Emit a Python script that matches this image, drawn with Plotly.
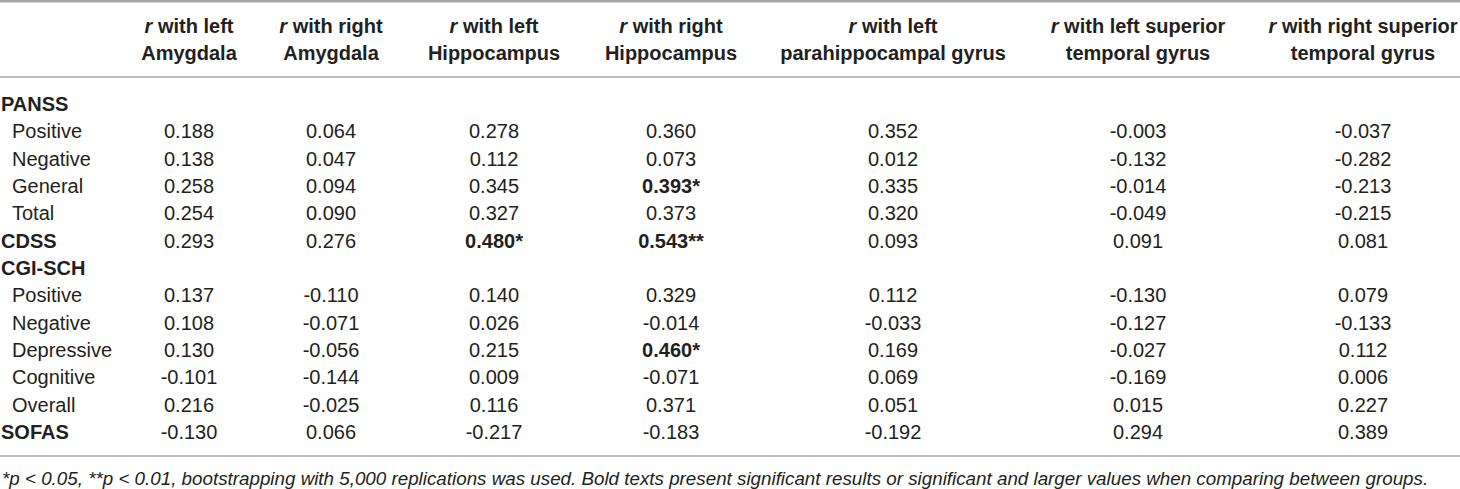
import plotly.graph_objects as go

# row labels (group rows are bold, the rest are indented sub-scales)
row_labels = ["PANSS", "Positive", "Negative", "General", "Total", "CDSS",
              "CGI-SCH", "Positive", "Negative", "Depressive", "Cognitive",
              "Overall", "SOFAS"]
group_rows = [0, 5, 6, 12]

header_top = ["<i>r</i> with left", "<i>r</i> with right", "<i>r</i> with left",
              "<i>r</i> with right", "<i>r</i> with left",
              "<i>r</i> with left superior", "<i>r</i> with right superior"]
header_bottom = ["Amygdala", "Amygdala", "Hippocampus", "Hippocampus",
                 "parahippocampal gyrus", "temporal gyrus", "temporal gyrus"]

left_amygdala = [None, 0.188, 0.138, 0.258, 0.254, 0.293, None, 0.137, 0.108, 0.130, -0.101, 0.216, -0.130]
right_amygdala = [None, 0.064, 0.047, 0.094, 0.090, 0.276, None, -0.110, -0.071, -0.056, -0.144, -0.025, 0.066]
left_hippocampus = [None, 0.278, 0.112, 0.345, 0.327, 0.480, None, 0.140, 0.026, 0.215, 0.009, 0.116, -0.217]
right_hippocampus = [None, 0.360, 0.073, 0.393, 0.373, 0.543, None, 0.329, -0.014, 0.460, -0.071, 0.371, -0.183]
left_parahippocampal = [None, 0.352, 0.012, 0.335, 0.320, 0.093, None, 0.112, -0.033, 0.169, 0.069, 0.051, -0.192]
left_stg = [None, -0.003, -0.132, -0.014, -0.049, 0.091, None, -0.130, -0.127, -0.027, -0.169, 0.015, 0.294]
right_stg = [None, -0.037, -0.282, -0.213, -0.215, 0.081, None, 0.079, -0.133, 0.112, 0.006, 0.227, 0.389]

# significance marks, same row order
sig_left_hippocampus = ["", "", "", "", "", "*", "", "", "", "", "", "", ""]
sig_right_hippocampus = ["", "", "", "*", "", "**", "", "", "", "*", "", "", ""]
no_sig = [""] * len(row_labels)

columns = [left_amygdala, right_amygdala, left_hippocampus, right_hippocampus,
           left_parahippocampal, left_stg, right_stg]
sig_marks = [no_sig, no_sig, sig_left_hippocampus, sig_right_hippocampus,
             no_sig, no_sig, no_sig]

footnote = ("<i>*p < 0.05, **p < 0.01, bootstrapping with 5,000 replications was used. "
            "Bold texts present significant results or significant and larger values "
            "when comparing between groups.</i>")

# layout constants (pixels across, row units down)
W, H = 1460, 489
col_x = [189, 331, 494, 671, 893, 1138, 1363]
row0_px, row_px = 104, 27.33
FONT = "Liberation Sans"
FS = 20
TXT = "#231f20"
LINE = "#a6a6a6"
VALUE_NUDGE = 2 / row_px  # scatter text sits a touch high vs annotations


def to_row(px):
    return (px - row0_px) / row_px


fig = go.Figure()

rows = list(range(len(row_labels)))
for cx, vals, sigs in zip(col_x, columns, sig_marks):
    texts = []
    for v, s in zip(vals, sigs):
        if v is None:
            texts.append("")
        elif s:
            texts.append(f"<b>{v:.3f}{s}</b>")
        else:
            texts.append(f"{v:.3f}")
    fig.add_trace(go.Scatter(
        x=[cx] * len(rows), y=[r + VALUE_NUDGE for r in rows],
        mode="text", text=texts, textposition="middle center",
        textfont=dict(family=FONT, size=FS, color=TXT),
        hoverinfo="skip", showlegend=False,
    ))

# column headers
fig.add_trace(go.Scatter(
    x=col_x, y=[to_row(28)] * len(col_x), mode="text",
    text=[f"<b>{t}</b>" for t in header_top],
    textfont=dict(family=FONT, size=FS, color=TXT),
    hoverinfo="skip", showlegend=False,
))
fig.add_trace(go.Scatter(
    x=col_x, y=[to_row(55)] * len(col_x), mode="text",
    text=[f"<b>{t}</b>" for t in header_bottom],
    textfont=dict(family=FONT, size=FS, color=TXT),
    hoverinfo="skip", showlegend=False,
))

# row labels
for i, lab in enumerate(row_labels):
    bold = i in group_rows
    fig.add_annotation(
        x=0 if bold else 11, y=i, xref="x", yref="y",
        text=f"<b>{lab}</b>" if bold else lab,
        xanchor="left", yanchor="middle", showarrow=False, borderpad=0,
        font=dict(family=FONT, size=FS, color=TXT),
    )

fig.add_annotation(
    x=1, y=to_row(478), xref="x", yref="y", text=footnote,
    xanchor="left", yanchor="middle", showarrow=False, borderpad=0,
    font=dict(family=FONT, size=18.8, color=TXT),
)

# rules
fig.add_shape(type="line", x0=0, x1=W, y0=to_row(1), y1=to_row(1),
              line=dict(color=LINE, width=3))
fig.add_shape(type="line", x0=0, x1=W, y0=to_row(77), y1=to_row(77),
              line=dict(color=LINE, width=1.5))
fig.add_shape(type="line", x0=0, x1=W, y0=to_row(456), y1=to_row(456),
              line=dict(color=LINE, width=1.5))

fig.update_xaxes(range=[0, W], visible=False, fixedrange=True)
fig.update_yaxes(range=[to_row(H), to_row(0)], visible=False, fixedrange=True)
fig.update_layout(
    width=W, height=H, margin=dict(l=0, r=0, t=0, b=0),
    paper_bgcolor="white", plot_bgcolor="white",
)

fig.write_html("out.html", config={"displayModeBar": False},
               post_script="document.body.style.margin='0';")
